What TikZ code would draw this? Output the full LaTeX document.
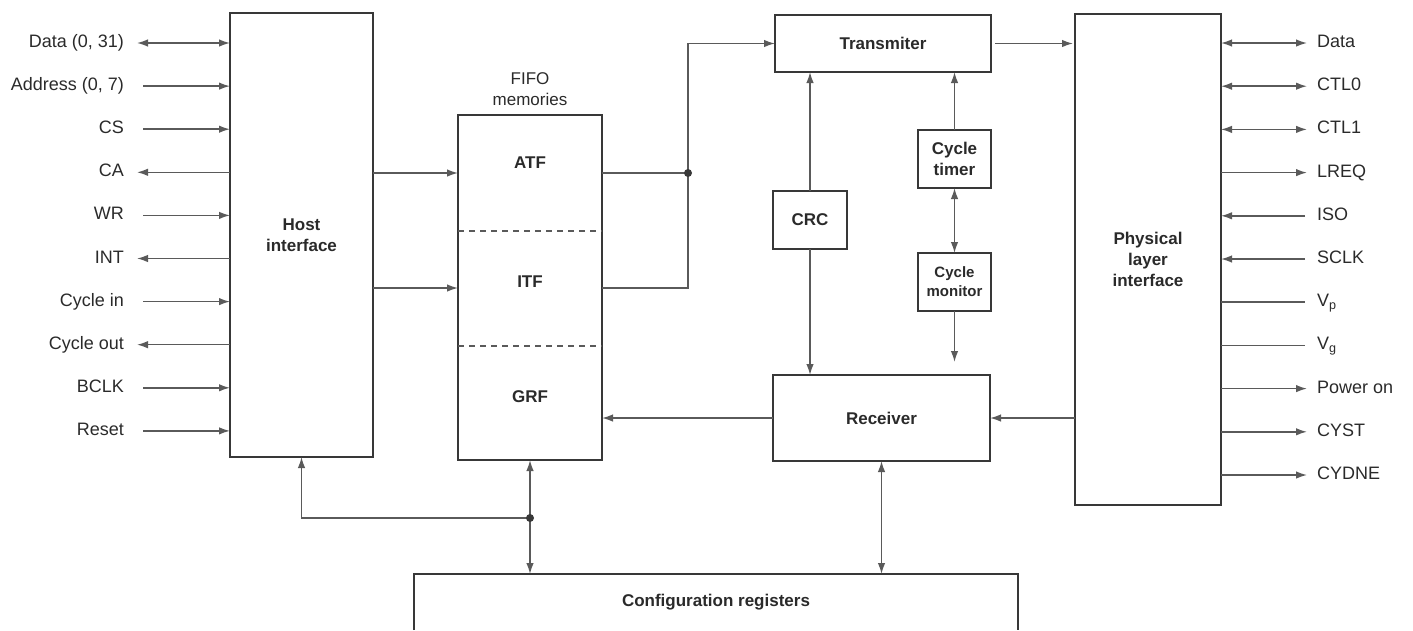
\documentclass[tikz,border=0pt]{standalone}
\usepackage{fontspec}
\setmainfont{Liberation Sans}
\usetikzlibrary{arrows.meta}
\definecolor{boxc}{HTML}{383838}
\definecolor{linec}{HTML}{5A5A5A}
\definecolor{txtc}{HTML}{2A2A2A}
\tikzset{
  every node/.style={text=txtc, font=\fontsize{18}{21}\selectfont},
  box/.style={draw=boxc, line width=2.2pt, inner sep=0pt, outer sep=0pt, align=center,
              font=\fontsize{17}{21}\selectfont\bfseries},
  sig/.style={draw=linec, line width=1.5pt},
  >={Latex[length=11pt,width=7.5pt]},
  lbl/.style={inner sep=0pt, text height=12pt, text depth=3pt},
  dot/.style={fill=boxc},
}
\begin{document}
\begin{tikzpicture}[x=1pt,y=-1pt]
\useasboundingbox (0,0) rectangle (1413,630);

% blocks
\node[box, minimum width=143pt, minimum height=444pt] (host) at (301.5,235) {Host\\interface};
\node[box, minimum width=144pt, minimum height=345pt] (fifo) at (530,287.5) {};
\node[align=center, font=\fontsize{17}{21}\selectfont] (fifol) at (530,89) {FIFO\\memories};
\node[font=\fontsize{17}{20}\selectfont\bfseries] (atf) at (530,163) {ATF};
\node[font=\fontsize{17}{20}\selectfont\bfseries] (itf) at (530,282) {ITF};
\node[font=\fontsize{17}{20}\selectfont\bfseries] (grf) at (530,397) {GRF};
\draw[sig, dash pattern=on 6pt off 5pt, line width=1.2pt] (fifo.west |- 0,231) -- (fifo.east |- 0,231);
\draw[sig, dash pattern=on 6pt off 5pt, line width=1.2pt] (fifo.west |- 0,346) -- (fifo.east |- 0,346);

\node[box, minimum width=216pt, minimum height=57pt] (tx) at (883,43.5) {Transmiter};
\node[box, minimum width=74pt, minimum height=58pt] (crc) at (810,220) {CRC};
\node[box, minimum width=73pt, minimum height=58pt] (timer) at (954.5,159) {Cycle\\timer};
\node[box, minimum width=73pt, minimum height=58pt, font=\fontsize{15}{19}\selectfont\bfseries] (mon) at (954.5,282) {Cycle\\monitor};
\node[box, minimum width=217pt, minimum height=86pt] (rx) at (881.5,418) {Receiver};
\node[box, minimum width=146pt, minimum height=491pt] (phy) at (1148,259.5) {Physical\\layer\\interface};
\node[inner sep=0pt, outer sep=0pt, minimum width=604pt, minimum height=56pt, font=\fontsize{17}{20}\selectfont\bfseries] (cfg) at (716,602) {Configuration registers};
\draw[draw=boxc, line width=2.2pt] (cfg.south west) -- (cfg.north west) -- (cfg.north east) -- (cfg.south east);

% left signals
\foreach \i/\t in {0/{Data (0, 31)}, 1/{Address (0, 7)}, 2/CS, 3/CA, 4/WR,
                   5/INT, 6/{Cycle in}, 7/{Cycle out}, 8/BCLK, 9/Reset} {
  \node[lbl, anchor=east] (L\i) at (124,{43+43.1*\i}) {\t};
}
\draw[sig,<->] ([xshift=13pt]L0.east) -- (L0 -| host.west);
\foreach \i in {1,2,4,6,8,9} { \draw[sig,->] ([xshift=19pt]L\i.east) -- (L\i -| host.west); }
\foreach \i in {3,5,7} { \draw[sig,->] (L\i -| host.west) -- ([xshift=13pt]L\i.east); }

% right signals
\foreach \i/\t in {0/Data, 1/CTL0, 2/CTL1, 3/LREQ, 4/ISO, 5/SCLK, 6/{V\textsubscript{p}}, 7/{V\textsubscript{g}},
                   8/{Power on}, 9/CYST, 10/CYDNE} {
  \node[lbl, anchor=west] (R\i) at (1317,{43+43.2*\i}) {\t};
}
\foreach \i in {0,1,2} { \draw[sig,<->] (R\i -| phy.east) -- ([xshift=-10pt]R\i.west); }
\foreach \i in {3,8,9,10} { \draw[sig,->] (R\i -| phy.east) -- ([xshift=-10pt]R\i.west); }
\foreach \i in {4,5} { \draw[sig,->] ([xshift=-12pt]R\i.west) -- (R\i -| phy.east); }
\foreach \i in {6,7} { \draw[sig] (R\i -| phy.east) -- ([xshift=-12pt]R\i.west); }

% host -> fifo
\coordinate (a1) at (0,173);
\coordinate (a2) at (0,288);
\draw[sig,->] (host.east |- a1) -- (fifo.west |- a1);
\draw[sig,->] (host.east |- a2) -- (fifo.west |- a2);

% fifo -> transmitter
\coordinate (j1) at (688,173);
\draw[sig] (fifo.east |- a1) -- (j1);
\draw[sig,->] (fifo.east |- a2) -| (j1) |- (tx.west);
\fill[dot] (j1) circle (4pt);

% transmitter -> phy
\draw[sig,->, shorten <=4pt, shorten >=2pt] (tx.east) -- (tx.east -| phy.west);

% CRC, timers
\draw[sig,->] (crc.north) -- (crc.north |- tx.south);
\draw[sig,->] (crc.south) -- (crc.south |- rx.north);
\draw[sig,->] (timer.north) -- (timer.north |- tx.south);
\draw[sig,<->] (timer.south) -- (mon.north);
\draw[sig,->, shorten >=13pt] (mon.south) -- (mon.south |- rx.north);

% receiver
\draw[sig,->] (rx.west) -- (rx.west -| fifo.east);
\draw[sig,->] (rx.east -| phy.west) -- (rx.east);

% configuration
\coordinate (j2) at (530,518);
\draw[sig,<->] (fifo.south) -- (fifo.south |- cfg.north);
\draw[sig,->] (j2) -| (host.south);
\fill[dot] (j2) circle (4pt);
\draw[sig,<->] (rx.south) -- (rx.south |- cfg.north);
\end{tikzpicture}
\end{document}
